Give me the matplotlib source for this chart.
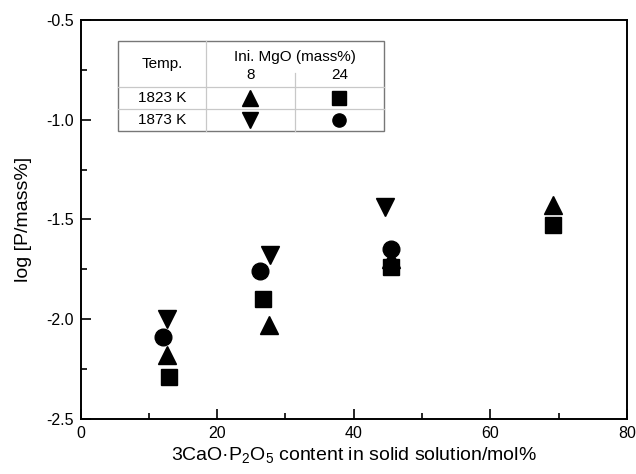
"""log[P] vs 3CaO.P2O5 content in solid solution, with a small symbol key table."""
import matplotlib
matplotlib.use("Agg")
import matplotlib.pyplot as plt
from matplotlib.lines import Line2D

plt.rcParams["font.family"] = ["Liberation Sans", "DejaVu Sans"]
plt.rcParams["mathtext.default"] = "regular"

# 1823 K, ini. MgO 8 mass%  (up triangle)
x_1823_8 = [12.7, 27.6, 45.4, 69.2]
y_1823_8 = [-2.18, -2.03, -1.70, -1.43]
# 1823 K, ini. MgO 24 mass%  (square)
x_1823_24 = [12.9, 26.7, 45.4, 69.1]
y_1823_24 = [-2.29, -1.90, -1.74, -1.53]
# 1873 K, ini. MgO 8 mass%  (down triangle)
x_1873_8 = [12.6, 27.7, 44.6]
y_1873_8 = [-2.00, -1.68, -1.44]
# 1873 K, ini. MgO 24 mass%  (circle)
x_1873_24 = [12.1, 26.3, 45.5]
y_1873_24 = [-2.09, -1.76, -1.65]

row_labels = ["1823 K", "1873 K"]
col_labels = ["8", "24"]

fig = plt.figure(figsize=(6.36, 4.74), dpi=100)
ax = fig.add_axes([0.1266, 0.116, 0.8592, 0.842])

ax.plot(x_1823_8, y_1823_8, "^", color="black", ms=13, ls="none")
ax.plot(x_1823_24, y_1823_24, "s", color="black", ms=11.5, ls="none")
ax.plot(x_1873_8, y_1873_8, "v", color="black", ms=13, ls="none")
ax.plot(x_1873_24, y_1873_24, "o", color="black", ms=12, ls="none")

ax.set_xlim(0, 80)
ax.set_ylim(-2.5, -0.5)
ax.set_xticks([0, 20, 40, 60, 80])
ax.set_xticks([10, 30, 50, 70], minor=True)
ax.set_yticks([-2.5, -2.0, -1.5, -1.0, -0.5])
ax.set_yticks([-2.25, -1.75, -1.25, -0.75], minor=True)
ax.set_yticklabels(["-2.5", "-2.0", "-1.5", "-1.0", "-0.5"])
ax.tick_params(which="both", direction="in", width=1.2, labelsize=11.5, color="black", pad=5)
ax.tick_params(which="major", length=7)
ax.tick_params(which="minor", length=4)
for s in ax.spines.values():
    s.set_linewidth(1.4)

ax.set_xlabel("3CaO·P$_2$O$_5$ content in solid solution/mol%", fontsize=14, labelpad=3)
ax.set_ylabel("log [P/mass%]", fontsize=14, labelpad=10)

# key table in axes fraction
tl, tr = 0.069, 0.555
c1, c2 = 0.2296, 0.392
tt, r1, r2, tb = 0.948, 0.833, 0.777, 0.722
tr_kw = dict(transform=ax.transAxes)
light = "#c8c8c8"
for yy in (r1, r2):
    ax.add_line(Line2D([tl, tr], [yy, yy], color=light, lw=0.9, **tr_kw))
ax.add_line(Line2D([c1, c1], [tb, tt], color=light, lw=0.9, **tr_kw))
ax.add_line(Line2D([c2, c2], [tb, r1 + 0.035], color=light, lw=0.9, **tr_kw))
ax.add_patch(plt.Rectangle((tl, tb), tr - tl, tt - tb, fill=False,
                           ec="#777777", lw=1.0, **tr_kw))

fs = 11
ax.text((tl + c1) / 2, (tt + r1) / 2, "Temp.", ha="center", va="center", fontsize=fs, **tr_kw)
ax.text((c1 + tr) / 2, 0.908, "Ini. MgO (mass%)", ha="center", va="center", fontsize=fs, **tr_kw)
ax.text((c1 + c2) / 2, 0.862, col_labels[0], ha="center", va="center", fontsize=fs, **tr_kw)
ax.text((c2 + tr) / 2, 0.862, col_labels[1], ha="center", va="center", fontsize=fs, **tr_kw)
ax.text((tl + c1) / 2, (r1 + r2) / 2, row_labels[0], ha="center", va="center", fontsize=fs, **tr_kw)
ax.text((tl + c1) / 2, (r2 + tb) / 2, row_labels[1], ha="center", va="center", fontsize=fs, **tr_kw)

key = [("^", c1, c2, r1, r2), ("s", c2, tr, r1, r2),
       ("v", c1, c2, r2, tb), ("o", c2, tr, r2, tb)]
for m, xa, xb, ya, yb in key:
    ax.plot([(xa + xb) / 2], [(ya + yb) / 2], m, color="black",
            ms=11 if m in "^v" else 9.5, transform=ax.transAxes, clip_on=False)

fig.savefig("out.png", dpi=100)
